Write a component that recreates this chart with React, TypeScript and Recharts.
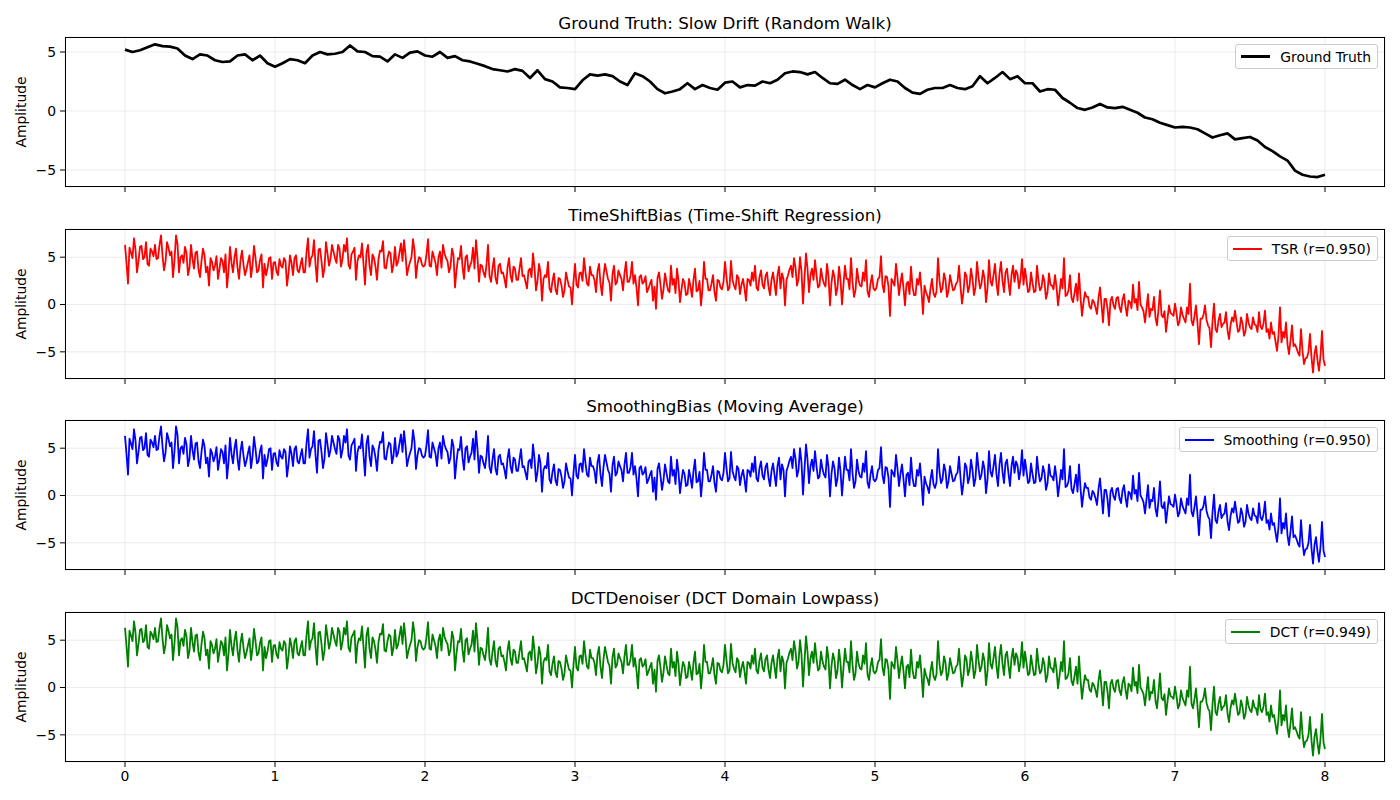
import { LineChart, Line, XAxis, YAxis, CartesianGrid } from "recharts";

// sampling steps of the traced curves
const GT_STEP = 0.05;
const NOISY_STEP = 0.02;

const xTicks = [0, 1, 2, 3, 4, 5, 6, 7, 8];
const yTicks = [-5, 0, 5];

// Ground truth, traced every 0.05 from t = 0 to 8
const groundTruth = [
  5.2, 5.0, 5.15, 5.4, 5.65, 5.5, 5.45, 5.3, 4.7, 4.4,
  4.8, 4.7, 4.3, 4.15, 4.2, 4.7, 4.8, 4.3, 4.7, 4.05,
  3.75, 4.05, 4.4, 4.3, 4.05, 4.7, 5.0, 4.8, 4.85, 5.0,
  5.55, 5.05, 5.0, 4.65, 4.6, 4.2, 4.8, 4.5, 4.95, 5.05,
  4.7, 4.6, 5.0, 4.5, 4.65, 4.3, 4.2, 4.0, 3.8, 3.55,
  3.45, 3.35, 3.55, 3.4, 2.8, 3.45, 2.7, 2.5, 2.0, 1.95,
  1.85, 2.6, 3.1, 3.0, 3.1, 2.95, 2.5, 2.2, 3.2, 2.95,
  2.5, 1.85, 1.5, 1.65, 1.85, 2.35, 1.85, 2.2, 1.95, 1.8,
  2.4, 2.5, 2.0, 2.2, 2.15, 2.5, 2.35, 2.65, 3.2, 3.35,
  3.3, 3.1, 3.3, 2.8, 2.35, 2.3, 2.65, 2.2, 1.85, 2.2,
  2.0, 2.35, 2.65, 2.5, 1.95, 1.55, 1.45, 1.8, 1.95, 1.95,
  2.2, 1.95, 1.85, 2.1, 2.95, 2.35, 2.8, 3.3, 2.7, 2.95,
  2.35, 2.35, 1.65, 1.85, 1.8, 1.1, 0.7, 0.25, 0.1, 0.3,
  0.6, 0.3, 0.25, 0.35, 0.1, -0.15, -0.55, -0.7, -1.0, -1.2,
  -1.4, -1.35, -1.4, -1.55, -1.9, -2.25, -2.05, -1.9, -2.4, -2.3,
  -2.2, -2.5, -3.05, -3.4, -3.85, -4.2, -5.05, -5.4, -5.55, -5.6,
  -5.4,
];

// Reconstructed (noisy) signal, traced every 0.02 from t = 0 to 8
const tsrValues = [
  // t 0 - 2
  6.3, 2.2, 5.5, 7.0, 3.4, 6.1, 4.8, 6.6, 4.1, 5.6,
  6.3, 4.9, 7.3, 3.6, 6.6, 5.2, 2.9, 7.3, 3.4, 5.2,
  6.1, 3.1, 6.3, 3.8, 5.6, 2.9, 5.9, 3.4, 2.0, 4.5,
  4.1, 2.7, 4.9, 3.4, 1.8, 6.1, 3.4, 5.9, 2.7, 5.7,
  3.1, 4.5, 2.9, 6.2, 3.4, 4.7, 1.8, 3.1, 4.9, 2.7,
  4.5, 3.1, 4.1, 4.9, 2.0, 5.2, 3.1, 5.2, 3.4, 4.9,
  3.4, 7.0, 4.9, 6.8, 2.4, 5.9, 2.9, 6.6, 4.1, 6.3,
  4.9, 6.3, 4.0, 6.3, 7.0, 3.8, 5.6, 2.6, 5.2, 6.45,
  2.1, 6.3, 3.1, 4.9, 2.6, 5.7, 6.7, 3.8, 5.6, 3.4,
  6.1, 4.5, 6.45, 6.8, 3.1, 4.5, 6.9, 2.8, 5.0, 4.2,
  // t 2 - 4
  4.2, 6.9, 4.0, 5.0, 3.1, 5.6, 6.3, 4.9, 3.4, 5.9,
  1.8, 4.9, 6.2, 2.7, 5.2, 4.1, 6.0, 6.8, 2.4, 4.1,
  2.9, 6.3, 2.4, 4.9, 2.2, 4.3, 3.4, 1.8, 4.9, 2.4,
  3.8, 2.6, 4.9, 3.1, 1.7, 3.8, 5.4, 1.5, 4.3, 0.4,
  3.1, 4.5, 1.3, 3.3, 1.1, 2.7, 0.8, 3.4, 1.9, 0.0,
  4.3, 1.8, 3.4, 4.9, 2.2, 4.0, 3.1, 1.3, 4.3, 1.0,
  4.3, 2.7, 0.4, 4.1, 2.4, 3.1, 1.5, 4.5, 2.4, 4.5,
  3.1, -0.1, 3.1, 2.4, 1.3, 2.2, 0.4, -0.45, 3.4, 0.6,
  3.3, 1.5, 4.1, 2.7, 3.8, 0.25, 2.7, 1.0, 2.7, 0.8,
  3.8, 1.5, -0.1, 4.5, 2.7, 1.5, 3.1, 0.4, 2.5, 1.6,
  // t 4 - 6
  4.5, 1.5, 4.6, 2.0, 3.1, 1.1, 2.7, 0.4, 2.6, 3.4,
  4.1, 1.5, 3.6, 1.7, 3.4, 1.0, 3.4, 1.0, 4.0, 3.3,
  -0.1, 3.1, 4.1, 4.9, 2.0, 5.0, 0.1, 5.4, 1.3, 3.8,
  4.7, 1.8, 3.8, 2.2, 4.3, -0.1, 3.6, 1.0, 4.0, 0.0,
  4.1, 2.7, 4.9, 0.8, 3.8, 2.0, 3.4, 4.7, 0.8, 3.1,
  1.5, 2.7, 5.1, 1.3, 2.9, -1.2, 2.4, 4.3, 1.0, 3.3,
  -0.1, 2.4, 4.0, 1.0, 2.7, 3.4, -1.0, 1.3, 0.25, 2.7,
  0.8, 4.9, 1.3, 3.3, 0.8, 3.1, 1.5, 2.2, 4.1, 0.1,
  3.4, 1.3, 3.8, 1.0, 4.5, 1.7, 3.6, 0.25, 4.7, 2.0,
  4.3, 1.0, 4.5, 1.3, 3.8, 1.0, 4.1, 3.6, 1.7, 4.8,
  // t 6 - 8
  3.8, 1.3, 3.4, 1.3, 4.1, 1.5, 3.1, 0.6, 3.3, 2.0,
  3.1, -0.1, 2.7, 4.9, 1.0, 3.1, 0.25, 2.2, 3.3, -1.2,
  1.3, 0.8, -0.45, 0.25, -1.0, 1.8, -1.9, 0.6, -2.2, 0.8,
  -0.45, 0.8, -0.8, 1.1, -1.2, 0.25, 2.1, 0.6, 2.4, -0.3,
  -1.9, 1.1, -0.45, 0.8, -2.2, 1.5, -1.35, -2.9, -0.1, -1.0,
  0.1, -2.2, -0.3, -1.5, -0.3, 2.2, -2.2, -0.1, -4.2, -1.5,
  -0.1, -2.2, -4.5, 0.1, -2.9, -1.0, -2.05, -0.8, -3.65, -1.35,
  -0.65, -2.9, -1.35, -3.3, -1.0, -2.4, -1.35, -2.2, -0.8, -2.6,
  -0.65, -2.6, -1.9, -2.9, -4.9, -0.3, -2.9, -1.9, -5.25, -2.2,
  -4.2, -5.1, -2.6, -6.3, -5.6, -3.1, -7.2, -4.4, -7.0, -2.8,
  -6.5,
];

// in-between samples (t = 0.01, 0.03, ...) of the dense core of the band
const tsrMidpoints = [
  // t 0 - 2
  4.4, 6.0, 4.9, 5.8, 4.6, 6.2, 5.0, 4.3, 5.9, 5.1,
  4.8, 6.3, 5.2, 4.5, 6.0, 5.6, 4.7, 6.4, 5.0, 4.4,
  5.4, 3.9, 4.8, 5.5, 3.7, 4.6, 5.2, 4.0, 4.9, 3.6,
  5.1, 3.8, 4.6, 5.3, 3.5, 4.4, 5.0, 3.9, 4.7, 4.2,
  3.7, 5.2, 4.1, 4.9, 3.6, 5.3, 4.3, 3.8, 5.0, 4.4,
  3.5, 4.8, 3.9, 4.6, 3.3, 4.4, 4.9, 3.6, 4.2, 3.4,
  5.5, 4.0, 5.2, 4.3, 5.8, 4.6, 3.9, 5.4, 4.8, 5.6,
  4.4, 5.9, 4.8, 5.6, 4.2, 5.3, 6.0, 4.6, 5.0, 4.3,
  5.5, 4.1, 5.3, 4.0, 4.8, 5.6, 3.9, 4.9, 5.4, 4.2,
  4.1, 5.5, 4.6, 5.3, 3.9, 5.0, 5.7, 4.3, 4.9, 4.0,
  // t 2 - 4
  5.3, 4.1, 5.6, 4.4, 5.0, 3.9, 5.4, 4.6, 4.0, 5.2,
  3.6, 4.8, 4.0, 5.0, 3.5, 4.5, 3.8, 4.9, 4.2, 3.4,
  4.2, 3.0, 3.8, 2.8, 4.1, 3.3, 2.7, 3.9, 3.1, 4.0,
  2.6, 3.8, 3.0, 2.4, 3.6, 2.9, 3.9, 2.5, 3.4, 2.7,
  2.9, 1.7, 2.5, 1.6, 2.8, 2.0, 1.5, 2.6, 1.8, 2.4,
  2.1, 3.3, 2.5, 3.4, 2.0, 3.1, 2.6, 3.5, 2.2, 3.0,
  3.5, 2.3, 3.2, 2.1, 3.6, 2.7, 3.3, 2.4, 3.0, 2.2,
  1.8, 2.9, 2.2, 3.0, 1.7, 2.6, 1.9, 2.8, 2.1, 1.6,
  2.4, 1.3, 2.1, 1.2, 2.5, 1.6, 2.3, 1.1, 1.9, 2.6,
  1.4, 2.5, 1.7, 2.7, 1.5, 2.2, 1.3, 2.6, 1.8, 2.4,
  // t 4 - 6
  2.9, 1.8, 2.6, 1.6, 2.8, 2.1, 1.7, 2.7, 2.0, 2.5,
  1.8, 2.9, 2.1, 3.0, 1.9, 2.6, 2.2, 3.1, 1.7, 2.7,
  2.6, 3.7, 2.9, 3.9, 2.7, 3.5, 2.8, 3.8, 3.1, 2.6,
  3.1, 2.0, 2.8, 1.9, 3.0, 2.3, 2.9, 1.8, 2.6, 2.1,
  2.7, 1.6, 2.4, 1.5, 2.6, 1.9, 2.5, 1.4, 2.2, 1.7,
  1.8, 2.9, 2.1, 3.0, 1.9, 2.7, 2.0, 2.8, 2.3, 1.7,
  2.2, 1.1, 1.9, 1.0, 2.1, 1.4, 2.0, 0.9, 1.7, 1.2,
  1.4, 2.5, 1.7, 2.6, 1.5, 2.3, 1.6, 2.4, 1.9, 1.3,
  3.0, 1.9, 2.7, 1.8, 2.9, 2.2, 2.8, 1.7, 2.5, 3.1,
  2.2, 3.3, 2.5, 3.4, 2.3, 3.1, 2.4, 3.2, 2.7, 2.1,
  // t 6 - 8
  2.6, 1.5, 2.3, 1.4, 2.5, 1.8, 2.4, 1.3, 2.1, 1.6,
  1.9, 1.2, 1.7, 0.9, 1.5, 0.7, 1.2, 0.4, 0.8, 0.2,
  0.8, -0.2, 0.5, -0.3, 0.7, 0.0, 0.6, -0.4, 0.4, -0.1,
  0.7, -0.3, 0.5, -0.2, 0.4, -0.4, 0.2, -0.6, 0.0, -0.7,
  -0.4, -1.3, -0.6, -1.4, -0.5, -1.1, -0.7, -1.5, -0.9, -1.2,
  -0.9, -1.8, -1.1, -1.9, -1.0, -1.7, -1.2, -2.0, -1.5, -1.1,
  -1.6, -2.5, -1.8, -2.6, -1.7, -2.4, -1.9, -2.7, -2.2, -1.8,
  -1.8, -2.7, -2.0, -2.8, -1.9, -2.6, -2.1, -2.9, -2.3, -2.0,
  -2.9, -3.6, -3.1, -3.9, -3.3, -4.0, -3.5, -4.2, -3.8, -4.4,
  -4.6, -5.4, -4.9, -5.7, -5.0, -5.6, -5.2, -5.9, -5.4, -5.8,
];

// the three denoisers give visually the same trace
const smoothingValues = tsrValues;
const smoothingMidpoints = tsrMidpoints;
const dctValues = tsrValues;
const dctMidpoints = tsrMidpoints;

type Row = { t: number; v: number };

const toRows = (values: number[], step: number, mids?: number[]): Row[] => {
  const rows: Row[] = [];
  values.forEach((v, i) => {
    rows.push({ t: +(i * step).toFixed(3), v });
    if (mids && i < mids.length) rows.push({ t: +(i * step + step / 2).toFixed(3), v: mids[i] });
  });
  return rows;
};

const fmt = (v: number) => (v < 0 ? `\u2212${-v}` : `${v}`);

type PanelProps = {
  top: number;
  title: string;
  values: number[];
  mids?: number[];
  step: number;
  color: string;
  lineWidth: number;
  domain: [number, number];
  legend: string;
  showXLabels?: boolean;
};

function Panel({ top, title, values, mids, step, color, lineWidth, domain, legend, showXLabels }: PanelProps) {
  const data = toRows(values, step, mids);
  return (
    <>
      <div
        style={{
          position: "absolute",
          left: 65,
          width: 1320,
          top: top - 26,
          height: 24,
          lineHeight: "24px",
          textAlign: "center",
          fontSize: 16.7,
        }}
      >
        {title}
      </div>
      <div
        style={{
          position: "absolute",
          left: 21,
          top: top + 75,
          fontSize: 13.9,
          whiteSpace: "nowrap",
          transform: "translate(-50%, -50%) rotate(-90deg)",
        }}
      >
        Amplitude
      </div>
      <div style={{ position: "absolute", left: 0, top: top - 10 }}>
        <LineChart width={1400} height={190} data={data} margin={{ top: 10, right: 15, bottom: 0, left: 25 }}>
          <CartesianGrid stroke="#e6e6e6" strokeWidth={0.8} />
          <XAxis
            dataKey="t"
            type="number"
            domain={[-0.4, 8.4]}
            ticks={xTicks}
            allowDataOverflow
            height={30}
            tickSize={5}
            tickMargin={4}
            axisLine={false}
            tickLine={{ stroke: "#000" }}
            tick={{ fill: "#000", fontSize: 13.9 }}
            tickFormatter={showXLabels ? (v: number) => `${v}` : () => ""}
          />
          <YAxis
            type="number"
            domain={domain}
            ticks={yTicks}
            allowDataOverflow
            width={40}
            tickSize={5}
            tickMargin={4}
            axisLine={false}
            tickLine={{ stroke: "#000" }}
            tick={{ fill: "#000", fontSize: 13.9 }}
            tickFormatter={fmt}
          />
          <Line
            dataKey="v"
            stroke={color}
            strokeWidth={lineWidth}
            strokeLinejoin="round"
            dot={false}
            isAnimationActive={false}
          />
        </LineChart>
      </div>
      <div
        style={{
          position: "absolute",
          left: 65,
          top,
          width: 1320,
          height: 150,
          border: "1px solid #000",
          boxSizing: "border-box",
          pointerEvents: "none",
        }}
      />
      <div
        style={{
          position: "absolute",
          right: 22,
          top: top + 7,
          height: 25,
          boxSizing: "border-box",
          border: "1px solid #cccccc",
          borderRadius: 3,
          background: "rgba(255,255,255,0.8)",
          display: "flex",
          alignItems: "center",
          padding: "0 6px 0 5px",
          fontSize: 13.9,
        }}
      >
        <span style={{ display: "inline-block", width: 29, height: Math.max(2, lineWidth), background: color, marginRight: 10 }} />
        <span>{legend}</span>
      </div>
    </>
  );
}

export default function App() {
  return (
    <div
      style={{
        position: "absolute",
        left: 0,
        top: 0,
        width: 1400,
        height: 800,
        background: "#fff",
        fontFamily: "'DejaVu Sans', sans-serif",
        color: "#000",
      }}
    >
      <Panel
        top={37}
        title="Ground Truth: Slow Drift (Random Walk)"
        values={groundTruth}
        step={GT_STEP}
        color="#000000"
        lineWidth={2.7}
        domain={[-6.44, 6.27]}
        legend="Ground Truth"
      />
      <Panel
        top={229}
        title="TimeShiftBias (Time-Shift Regression)"
        values={tsrValues}
        mids={tsrMidpoints}
        step={NOISY_STEP}
        color="#ff0000"
        lineWidth={1.8}
        domain={[-7.87, 7.98]}
        legend="TSR (r=0.950)"
      />
      <Panel
        top={420}
        title="SmoothingBias (Moving Average)"
        values={smoothingValues}
        mids={smoothingMidpoints}
        step={NOISY_STEP}
        color="#0000ff"
        lineWidth={1.8}
        domain={[-7.87, 7.98]}
        legend="Smoothing (r=0.950)"
      />
      <Panel
        top={612}
        title="DCTDenoiser (DCT Domain Lowpass)"
        values={dctValues}
        mids={dctMidpoints}
        step={NOISY_STEP}
        color="#008000"
        lineWidth={1.8}
        domain={[-7.87, 7.98]}
        legend="DCT (r=0.949)"
        showXLabels
      />
    </div>
  );
}
